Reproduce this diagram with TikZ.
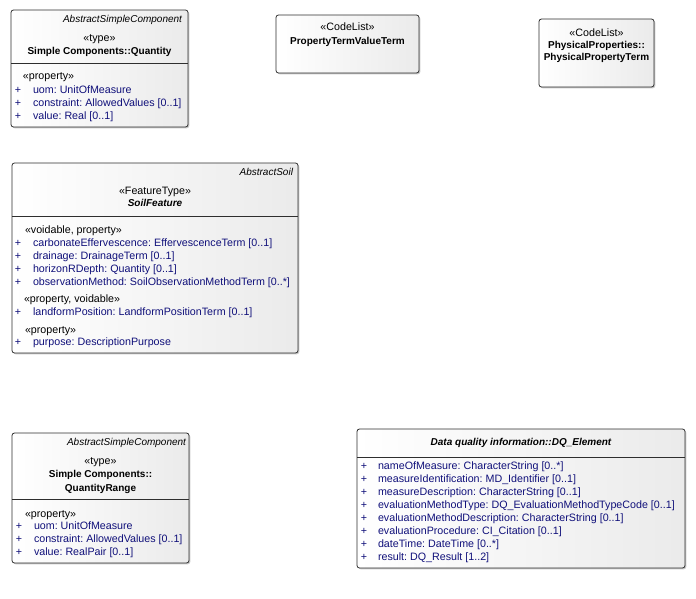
\documentclass[tikz,border=0pt]{standalone}
\usepackage{fontspec}
\setmainfont{Liberation Sans}
\usetikzlibrary{shadows}
\definecolor{attrblue}{HTML}{10107A}
\definecolor{boxedge}{HTML}{2E2E2E}
\begin{document}
\frenchspacing
\begin{tikzpicture}[x=1pt,y=-1pt,
  every node/.style={font=\fontsize{10.7}{12}\selectfont, inner sep=0pt, outer sep=0pt},
  classbox/.style={draw=boxedge, line width=0.8pt, rounded corners=2.5pt,
    left color=white, right color=gray!16, anchor=north west,
    drop shadow={shadow xshift=1.3pt, shadow yshift=-1.3pt, fill=gray!60, opacity=0.7}},
  abstr/.style={anchor=mid east, font=\fontsize{10}{12}\selectfont\itshape},
  stereo/.style={anchor=mid},
  cname/.style={anchor=mid, font=\fontsize{10}{12}\selectfont\bfseries},
  cnameit/.style={anchor=mid, font=\fontsize{10}{12}\selectfont\bfseries\itshape},
  tag/.style={anchor=mid west},
  plus/.style={anchor=mid, text=attrblue},
  attr/.style={anchor=mid west, text=attrblue},
  divider/.style={draw=boxedge, line width=0.8pt}]
\useasboundingbox (0,0) rectangle (696,598);

% ---- Simple Components::Quantity ----
\node[classbox, minimum width=177pt, minimum height=117pt] (q) at (11,10) {};
\draw[divider] (q.west |- 0,63) -- (q.east |- 0,63);
\node[abstr] (q-abs) at (182,20) {AbstractSimpleComponent};
\node[stereo] (q-st) at (99.5,39) {«type»};
\node[cname] (q-name) at (99.5,52) {Simple Components::Quantity};
\node[tag] (q-tag) at (23,77) {«property»};
\foreach \y/\t [count=\i] in {91/uom: UnitOfMeasure, 104/constraint: AllowedValues [0..1], 117/value: Real [0..1]} {
  \node[plus] (q-p\i) at (18,\y) {+};
  \node[attr] (q-a\i) at (33,\y) {\t};
}

% ---- PropertyTermValueTerm ----
\node[classbox, minimum width=143pt, minimum height=58pt] (ptv) at (276,15) {};
\node[stereo] (ptv-st) at (347.5,28) {«CodeList»};
\node[cname] (ptv-name) at (347.5,42) {PropertyTermValueTerm};

% ---- PhysicalProperties::PhysicalPropertyTerm ----
\node[classbox, minimum width=115pt, minimum height=68pt] (ppt) at (539,19) {};
\node[stereo] (ppt-st) at (596.5,34) {«CodeList»};
\node[cname] (ppt-n1) at (596.5,45.5) {PhysicalProperties::};
\node[cname] (ppt-n2) at (596.5,57.5) {PhysicalPropertyTerm};

% ---- SoilFeature ----
\node[classbox, minimum width=286pt, minimum height=190pt] (sf) at (12,163) {};
\draw[divider] (sf.west |- 0,216) -- (sf.east |- 0,216);
\node[abstr] (sf-abs) at (293,173) {AbstractSoil};
\node[stereo] (sf-st) at (155,192) {«FeatureType»};
\node[cnameit] (sf-name) at (155,204) {SoilFeature};
\node[tag] (sf-tag1) at (25,231) {«voidable, property»};
\foreach \y/\t [count=\i] in {
  243.5/carbonateEffervescence: EffervescenceTerm [0..1],
  256.5/drainage: DrainageTerm [0..1],
  269.5/horizonRDepth: Quantity [0..1],
  283/observationMethod: SoilObservationMethodTerm [0..*]} {
  \node[plus] (sf-p\i) at (18,\y) {+};
  \node[attr] (sf-a\i) at (33,\y) {\t};
}
\node[tag] (sf-tag2) at (24,300) {«property, voidable»};
\node[plus] (sf-p5) at (18,313) {+};
\node[attr] (sf-a5) at (33,313) {landformPosition: LandformPositionTerm [0..1]};
\node[tag] (sf-tag3) at (25,330.5) {«property»};
\node[plus] (sf-p6) at (18,343) {+};
\node[attr] (sf-a6) at (33,343) {purpose: DescriptionPurpose};

% ---- Simple Components::QuantityRange ----
\node[classbox, minimum width=177pt, minimum height=130pt] (qr) at (12,433) {};
\draw[divider] (qr.west |- 0,499) -- (qr.east |- 0,499);
\node[abstr] (qr-abs) at (186,443) {AbstractSimpleComponent};
\node[stereo] (qr-st) at (100.5,462) {«type»};
\node[cname] (qr-n1) at (100.5,475) {Simple Components::};
\node[cname] (qr-n2) at (100.5,489) {QuantityRange};
\node[tag] (qr-tag) at (25,515) {«property»};
\foreach \y/\t [count=\i] in {527/uom: UnitOfMeasure, 540/constraint: AllowedValues [0..1], 553/value: RealPair [0..1]} {
  \node[plus] (qr-p\i) at (19,\y) {+};
  \node[attr] (qr-a\i) at (34,\y) {\t};
}

% ---- Data quality information::DQ_Element ----
\node[classbox, minimum width=328pt, minimum height=139pt] (dq) at (357,429) {};
\draw[divider] (dq.west |- 0,457) -- (dq.east |- 0,457);
\node[cnameit] (dq-name) at (521,443) {Data quality information::DQ\_Element};
\foreach \y/\t [count=\i] in {
  467/nameOfMeasure: CharacterString [0..*],
  479.5/measureIdentification: MD\_Identifier [0..1],
  492.5/measureDescription: CharacterString [0..1],
  506/evaluationMethodType: DQ\_EvaluationMethodTypeCode [0..1],
  519/evaluationMethodDescription: CharacterString [0..1],
  532/evaluationProcedure: CI\_Citation [0..1],
  544.5/dateTime: DateTime [0..*],
  557.5/result: DQ\_Result [1..2]} {
  \node[plus] (dq-p\i) at (364,\y) {+};
  \node[attr] (dq-a\i) at (378,\y) {\t};
}
\end{tikzpicture}
\end{document}
